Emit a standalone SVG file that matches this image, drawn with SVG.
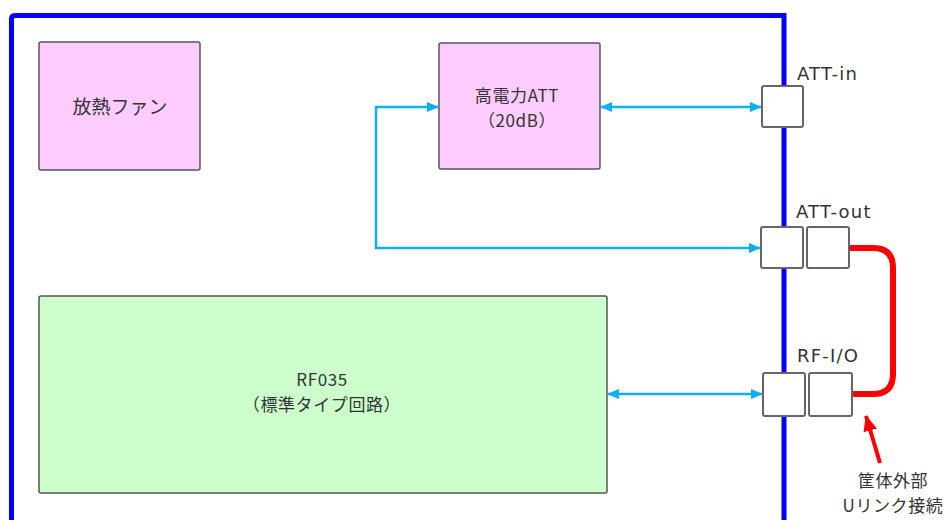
<svg xmlns="http://www.w3.org/2000/svg" width="952" height="520" viewBox="0 0 952 520">
<style>
.box{stroke:#555;stroke-width:1.5}
.port{fill:#fff;stroke:#666;stroke-width:2}
.t{font-family:"Noto Sans CJK JP","Noto Sans",sans-serif;font-size:17px;letter-spacing:0.6px;fill:#333;text-anchor:middle}
.f{font-size:19px;letter-spacing:0}
.lbl{font-family:"DejaVu Sans","Noto Sans",sans-serif;font-size:18px;fill:#333;letter-spacing:1.2px}
.c{fill:none;stroke:#10b0f0;stroke-width:2.5}
</style>
<defs>
<marker id="a" viewBox="0 0 12 10" refX="11" refY="5" markerWidth="12" markerHeight="10" markerUnits="userSpaceOnUse" orient="auto-start-reverse">
<path d="M0,0 L12,5 L0,10 Z" fill="#10b0f0"/>
</marker>
<marker id="r" viewBox="0 0 16 14" refX="15" refY="7" markerWidth="16" markerHeight="14" markerUnits="userSpaceOnUse" orient="auto">
<path d="M0,0 L16,7 L0,14 Z" fill="#ff0000"/>
</marker>
</defs>
<rect x="0" y="0" width="952" height="520" fill="#fff"/>
<g id="frame">
<path d="M11.5,530 V19 Q11.5,15.5 15,15.5 H784 V530" fill="none" stroke="#0000ff" stroke-width="5"/>
</g>
<g id="fan">
<rect class="box" x="39" y="42" width="161" height="128" rx="2" fill="#ffccff"/>
<text class="t f" x="120" y="114">放熱ファン</text>
</g>
<g id="att">
<rect class="box" x="439" y="43" width="161" height="126" rx="2" fill="#ffccff"/>
<text class="t" x="517" y="102">高電力ATT</text>
<text class="t" x="517" y="127">（20dB）</text>
</g>
<g id="rf035">
<rect class="box" x="39" y="296" width="568" height="197" rx="2" fill="#ccffcc"/>
<text class="t" x="322" y="386">RF035</text>
<text class="t" x="322" y="411">（標準タイプ回路）</text>
</g>
<g id="att-in">
<rect class="port" x="762" y="86" width="41" height="41" rx="2"/>
<text class="lbl" x="797" y="80">ATT-in</text>
</g>
<g id="att-out">
<rect class="port" x="761" y="227" width="42" height="41" rx="2"/>
<rect class="port" x="807" y="227" width="42" height="41" rx="2"/>
<text class="lbl" x="796" y="218">ATT-out</text>
</g>
<g id="rf-io">
<rect class="port" x="763" y="373" width="42" height="43" rx="2"/>
<rect class="port" x="809" y="373" width="43" height="43" rx="2"/>
<text class="lbl" x="797" y="362">RF-I/O</text>
</g>
<g id="note">
<text class="t" x="893" y="487">筐体外部</text>
<text class="t" x="893" y="512">Uリンク接続</text>
</g>
<g id="connectors">
<line class="c" x1="601" y1="107" x2="761" y2="107" marker-start="url(#a)" marker-end="url(#a)"/>
<path class="c" d="M760,248 H376 V107 H438" marker-start="url(#a)" marker-end="url(#a)"/>
<line class="c" x1="608" y1="394" x2="762" y2="394" marker-start="url(#a)" marker-end="url(#a)"/>
<path d="M850,248 H873 Q893,248 893,268 V374 Q893,394 873,394 H853" fill="none" stroke="#ff0000" stroke-width="6"/>
<line x1="880" y1="463" x2="866" y2="416" stroke="#ff0000" stroke-width="4" marker-end="url(#r)"/>
</g>
</svg>
